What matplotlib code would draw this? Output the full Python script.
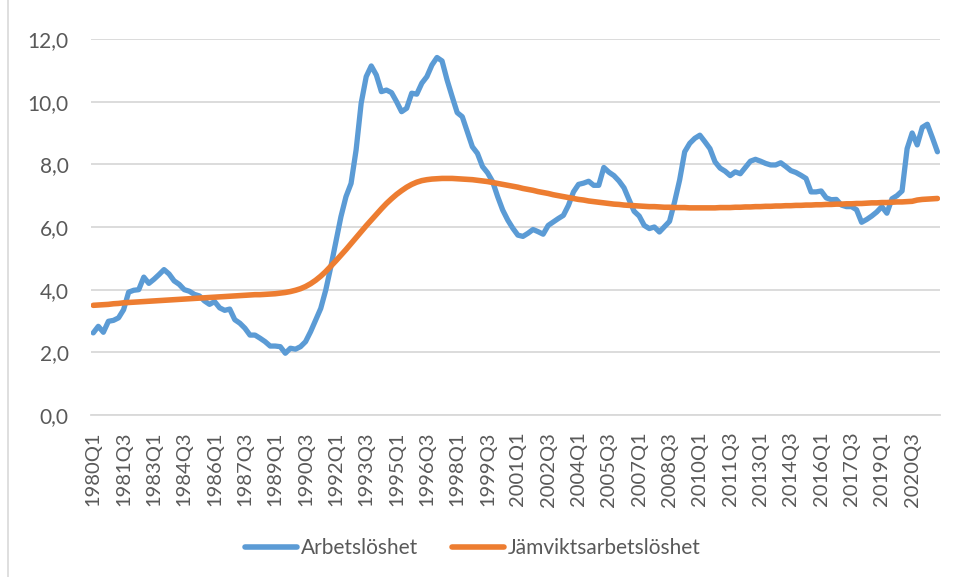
import matplotlib
matplotlib.use("Agg")
import matplotlib.pyplot as plt
from matplotlib.ticker import FuncFormatter, FixedLocator
from matplotlib.lines import Line2D

plt.rcParams['font.family'] = ['Lato', 'DejaVu Sans']

# Quarters 1980Q1 .. 2021Q4
quarters = [f"{y}Q{q}" for y in range(1980, 2022) for q in range(1, 5)]

arbetsloshet = [
    2.62, 2.83, 2.64, 2.99, 3.02, 3.10, 3.36, 3.92, 3.98, 4.00,
    4.40, 4.20, 4.33, 4.48, 4.64, 4.50, 4.28, 4.17, 4.00, 3.95,
    3.85, 3.80, 3.64, 3.53, 3.62, 3.42, 3.34, 3.38, 3.04, 2.93,
    2.77, 2.55, 2.55, 2.45, 2.34, 2.20, 2.20, 2.18, 1.97, 2.13,
    2.10, 2.18, 2.34, 2.66, 3.03, 3.40, 3.99, 4.73, 5.53, 6.33,
    6.97, 7.39, 8.46, 9.95, 10.80, 11.14, 10.85, 10.32, 10.37, 10.29,
    10.00, 9.68, 9.79, 10.27, 10.24, 10.59, 10.80, 11.17, 11.41, 11.30,
    10.69, 10.16, 9.65, 9.52, 9.04, 8.56, 8.35, 7.93, 7.73, 7.45,
    6.97, 6.54, 6.22, 5.96, 5.74, 5.70, 5.80, 5.92, 5.85, 5.77,
    6.05, 6.16, 6.27, 6.37, 6.69, 7.12, 7.36, 7.40, 7.46, 7.33,
    7.33, 7.90, 7.75, 7.64, 7.47, 7.25, 6.87, 6.50, 6.35, 6.05,
    5.95, 6.00, 5.84, 6.01, 6.18, 6.80, 7.50, 8.40, 8.67, 8.83,
    8.93, 8.72, 8.50, 8.08, 7.88, 7.78, 7.64, 7.76, 7.70, 7.90,
    8.10, 8.16, 8.10, 8.03, 7.98, 7.98, 8.05, 7.93, 7.80, 7.74,
    7.65, 7.55, 7.12, 7.12, 7.15, 6.93, 6.87, 6.88, 6.70, 6.65,
    6.65, 6.55, 6.15, 6.24, 6.35, 6.48, 6.65, 6.44, 6.90, 7.00,
    7.15, 8.50, 9.00, 8.62, 9.18, 9.28, 8.85, 8.40,
]

jamviktsarbetsloshet = [
    3.50, 3.51, 3.52, 3.53, 3.55, 3.56, 3.58, 3.59, 3.60, 3.61,
    3.62, 3.63, 3.64, 3.65, 3.66, 3.67, 3.68, 3.69, 3.70, 3.71,
    3.72, 3.73, 3.74, 3.75, 3.76, 3.77, 3.78, 3.79, 3.80, 3.81,
    3.82, 3.83, 3.84, 3.84, 3.85, 3.86, 3.87, 3.89, 3.91, 3.94,
    3.98, 4.03, 4.10, 4.19, 4.30, 4.43, 4.58, 4.75, 4.92, 5.10,
    5.28, 5.47, 5.66, 5.85, 6.04, 6.22, 6.40, 6.58, 6.75, 6.90,
    7.04, 7.16, 7.27, 7.36, 7.43, 7.48, 7.51, 7.53, 7.54, 7.55,
    7.55, 7.55, 7.54, 7.53, 7.52, 7.51, 7.49, 7.47, 7.45, 7.42,
    7.39, 7.36, 7.33, 7.30, 7.27, 7.23, 7.20, 7.17, 7.13, 7.10,
    7.07, 7.03, 7.00, 6.97, 6.94, 6.91, 6.88, 6.86, 6.83, 6.81,
    6.79, 6.77, 6.75, 6.73, 6.72, 6.70, 6.69, 6.68, 6.67, 6.66,
    6.65, 6.65, 6.64, 6.63, 6.63, 6.62, 6.62, 6.62, 6.61, 6.61,
    6.61, 6.61, 6.61, 6.61, 6.62, 6.62, 6.62, 6.63, 6.63, 6.64,
    6.64, 6.65, 6.65, 6.66, 6.66, 6.67, 6.67, 6.68, 6.68, 6.69,
    6.69, 6.70, 6.70, 6.71, 6.71, 6.72, 6.72, 6.73, 6.73, 6.74,
    6.74, 6.75, 6.75, 6.76, 6.77, 6.77, 6.78, 6.78, 6.79, 6.80,
    6.80, 6.81, 6.82, 6.86, 6.88, 6.89, 6.90, 6.91,
]

series_names = ["Arbetslöshet", "Jämviktsarbetslöshet"]
y_ticks = [0, 2, 4, 6, 8, 10, 12]
tick_step = 6

BLUE = "#5B9BD5"
ORANGE = "#ED7D31"
TEXT = "#595959"
GRID = "#D9D9D9"

fig = plt.figure(figsize=(9.57, 5.77), dpi=100)
ax = fig.add_axes([0.0948, 0.2808, 0.8874, 0.6516])

x = list(range(len(quarters)))
ax.plot(x, arbetsloshet, color=BLUE, lw=3.8, solid_capstyle='round',
        solid_joinstyle='round', label=series_names[0], zorder=3)
ax.plot(x, jamviktsarbetsloshet, color=ORANGE, lw=4.0, solid_capstyle='round',
        solid_joinstyle='round', label=series_names[1], zorder=4)

ax.set_xlim(-0.5, len(quarters) - 0.5)
ax.set_ylim(0, 12)
ax.set_yticks(y_ticks)
ax.yaxis.set_major_formatter(FuncFormatter(lambda v, p: f"{v:.1f}".replace(".", ",")))
tick_pos = x[::tick_step]
ax.xaxis.set_major_locator(FixedLocator(tick_pos))
ax.set_xticklabels([quarters[i] for i in tick_pos], rotation=90, va='top', ha='center')

ax.grid(axis='y', color=GRID, lw=1.3)
ax.set_axisbelow(True)
for s in ['top', 'right', 'left']:
    ax.spines[s].set_visible(False)
ax.spines['bottom'].set_color(GRID)
ax.spines['bottom'].set_linewidth(1.3)
ax.tick_params(axis='both', length=0, colors=TEXT)
ax.tick_params(axis='y', pad=16, labelsize=15)
ax.tick_params(axis='x', pad=12, labelsize=14.5)

handles = [Line2D([0], [0], color=BLUE, lw=4, solid_capstyle='round'),
           Line2D([0], [0], color=ORANGE, lw=4, solid_capstyle='round')]
leg = fig.legend(handles, series_names, loc='center', bbox_to_anchor=(0.494, 0.05),
                 ncol=2, frameon=False, fontsize=15, handlelength=2.5,
                 handletextpad=0.2, columnspacing=1.6)
for t in leg.get_texts():
    t.set_color(TEXT)

# chart border (left edge visible in reference)
fig.add_artist(Line2D([8 / 957, 8 / 957], [0, 1], transform=fig.transFigure,
                      color="#D9D9D9", lw=1.2))

fig.savefig("out.png", dpi=100)
